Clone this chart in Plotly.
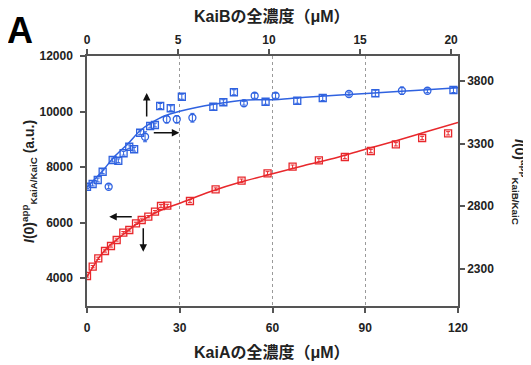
import plotly.graph_objects as go

# ---- data ----
# Red: KaiA total concentration (bottom axis, µM) vs I(0)app KaiA/KaiC (left axis)
kaiA_x = [0, 1.84, 3.65, 5.82, 7.76, 9.6, 11.74, 13.68, 15.85, 17.69, 19.83, 21.99, 23.93, 25.97,
          33.3, 41.6, 50.0, 58.4, 66.5, 75.0, 83.4, 91.8, 99.9, 108.4, 116.8]
kaiA_y = [4080, 4415, 4717, 4980, 5160, 5376, 5639, 5736, 5977, 6096, 6215, 6395, 6600, 6611,
          6780, 7201, 7511, 7777, 8015, 8245, 8364, 8580, 8821, 9048, 9217]
kaiA_err = [40, 40, 40, 40, 40, 40, 40, 40, 40, 40, 40, 40, 50, 50,
            50, 50, 60, 60, 60, 60, 60, 60, 60, 60, 60]
kaiA_fit_x = [0, 2, 4, 6, 8, 10, 12, 15, 20, 25, 30, 40, 50, 60, 70, 80, 90, 100, 110, 120]
kaiA_fit_y = [4050, 4420, 4760, 5030, 5250, 5420, 5600, 5870, 6230, 6500, 6700, 7120, 7470,
              7760, 8050, 8320, 8640, 8950, 9280, 9610]

# Blue: KaiB total concentration (top axis, µM) vs I(0)app KaiB/KaiC (right axis)
kaiB_sq_x = [0, 0.31, 0.59, 0.86, 1.41, 1.72, 2.01, 2.32, 2.59, 2.92, 3.47, 3.73, 4.02,
             4.60, 5.21, 6.94, 7.49, 8.07, 9.81, 11.55, 12.95, 15.84, 20.13]
kaiB_sq_y = [2954, 2976, 3008, 3074, 3168, 3162, 3222, 3274, 3254, 3386, 3440, 3448, 3600,
             3582, 3674, 3594, 3630, 3710, 3634, 3642, 3664, 3702, 3728]
kaiB_sq_err = [15, 15, 15, 15, 15, 15, 15, 15, 15, 15, 15, 15, 20,
               20, 20, 25, 20, 20, 20, 20, 20, 25, 20]
kaiB_ci_x = [1.19, 3.19, 4.38, 4.93, 5.79, 8.62, 9.21, 10.36, 14.39, 17.30, 18.70]
kaiB_ci_y = [2954, 3354, 3494, 3494, 3506, 3622, 3682, 3682, 3696, 3722, 3722]
kaiB_ci_err = [15, 40, 30, 30, 35, 15, 20, 20, 15, 30, 15]
kaiB_fit_x = [0, 0.4, 0.86, 1.5, 2.23, 2.96, 3.5, 4.24, 5.15, 6.98, 8.8, 10.08, 12.0, 15.56, 18.0, 20.38]
kaiB_fit_y = [2950, 3010, 3082, 3194, 3296, 3408, 3462, 3520, 3560, 3614, 3648, 3650, 3670, 3702, 3725, 3746]

kaiA_ticks = [0, 30, 60, 90, 120]
kaiB_ticks = [0, 5, 10, 15, 20]
left_ticks = [4000, 6000, 8000, 10000, 12000]
right_ticks = [2300, 2800, 3300, 3800]

BLUE = "#2f62e0"
RED = "#e8282c"
FONT = "Arial, 'Liberation Sans', 'Noto Sans CJK JP', sans-serif"
AX = "#555555"

fig = go.Figure()

# red fit + points
fig.add_trace(go.Scatter(x=kaiA_fit_x, y=kaiA_fit_y, mode="lines", line=dict(color=RED, width=1.5),
                         line_shape="spline", xaxis="x", yaxis="y", showlegend=False, hoverinfo="skip"))
fig.add_trace(go.Scatter(x=kaiA_x, y=kaiA_y, mode="markers", xaxis="x", yaxis="y", showlegend=False,
                         marker=dict(symbol="square-open", size=7, color=RED, line=dict(width=1.3)),
                         error_y=dict(type="data", array=kaiA_err, color=RED, thickness=1, width=2)))

# blue fit + points
fig.add_trace(go.Scatter(x=kaiB_fit_x, y=kaiB_fit_y, mode="lines", line=dict(color=BLUE, width=1.5),
                         line_shape="spline", xaxis="x2", yaxis="y2", showlegend=False, hoverinfo="skip"))
fig.add_trace(go.Scatter(x=kaiB_sq_x, y=kaiB_sq_y, mode="markers", xaxis="x2", yaxis="y2", showlegend=False,
                         marker=dict(symbol="square-open", size=7, color=BLUE, line=dict(width=1.3)),
                         error_y=dict(type="data", array=kaiB_sq_err, color=BLUE, thickness=1, width=2)))
fig.add_trace(go.Scatter(x=kaiB_ci_x, y=kaiB_ci_y, mode="markers", xaxis="x2", yaxis="y2", showlegend=False,
                         marker=dict(symbol="circle-open", size=7, color=BLUE, line=dict(width=1.3)),
                         error_y=dict(type="data", array=kaiB_ci_err, color=BLUE, thickness=1, width=2)))

tickfont = dict(family=FONT, size=12, color="#222222", weight="bold")
common = dict(showline=True, linecolor=AX, linewidth=1.5, ticks="outside", ticklen=5,
              tickwidth=1.5, tickcolor=AX, tickfont=tickfont, zeroline=False, tickformat="d")

# page body has an 8px margin: figure is 8px smaller and its content shifted up-left by 8px
fig.update_layout(
    width=523, height=357,
    margin=dict(l=79, r=73, t=48, b=59),
    paper_bgcolor="white", plot_bgcolor="white",
    font=dict(family=FONT),
    xaxis=dict(range=[0, 120], tickvals=kaiA_ticks, showgrid=True, gridcolor="#9a9a9a",
               griddash="dot", gridwidth=1, anchor="y", side="bottom", ticklabelstandoff=5, **common),
    xaxis2=dict(range=[0, 20.38], tickvals=kaiB_ticks, showgrid=False, overlaying="x",
                anchor="y", side="top", **common),
    yaxis=dict(range=[3000, 12000], tickvals=left_ticks, showgrid=False, anchor="x", side="left",
               ticklabelstandoff=5, **common),
    yaxis2=dict(range=[2000, 4000], tickvals=right_ticks, showgrid=False, overlaying="y",
                anchor="x", side="right", **common),
)

def px2paper(px, py):
    # screen pixel -> paper fraction (plot area on screen: x 87..458, y 56..306)
    return (px - 87) / 371.0, (306 - py) / 250.0

ann = []
x, y = px2paper(271.5, 16)
ann.append(dict(text="<b>KaiBの全濃度（μM）</b>", x=x, y=y, xref="paper", yref="paper",
                showarrow=False, xanchor="center", yanchor="middle",
                font=dict(family=FONT, size=16, color="#222")))
x, y = px2paper(271.5, 352)
ann.append(dict(text="<b>KaiAの全濃度（μM）</b>", x=x, y=y, xref="paper", yref="paper",
                showarrow=False, xanchor="center", yanchor="middle",
                font=dict(family=FONT, size=16, color="#222")))
x, y = px2paper(29, 182)
ann.append(dict(text="<b><i>I</i>(0)<sup>app</sup><sub>KaiA/KaiC</sub> (a.u.)</b>", x=x, y=y,
                xref="paper", yref="paper", showarrow=False, textangle=-90,
                xanchor="center", yanchor="middle", font=dict(family=FONT, size=14, color="#222")))
x, y = px2paper(520, 182)
ann.append(dict(text="<b><i>I</i>(0)<sup>app</sup><sub>KaiB/KaiC</sub></b>", x=x, y=y,
                xref="paper", yref="paper", showarrow=False, textangle=90,
                xanchor="center", yanchor="middle", font=dict(family=FONT, size=14, color="#222")))
x, y = px2paper(20, 8)
ann.append(dict(text="<b>A</b>", x=x, y=y, xref="paper", yref="paper", showarrow=False,
                xanchor="center", yanchor="top", font=dict(family=FONT, size=36, color="#000")))

# arrows (head positions in bottom/left axis coordinates)
arrow = dict(text="", showarrow=True, arrowhead=2, arrowsize=1, arrowwidth=1.5,
             arrowcolor="#111", xref="x", yref="y", axref="pixel", ayref="pixel")
ann.append(dict(arrow, x=19.3, y=10668, ax=0, ay=25))
ann.append(dict(arrow, x=29.85, y=9239, ax=-27, ay=0))
ann.append(dict(arrow, x=7.2, y=6215, ax=24, ay=0))
ann.append(dict(arrow, x=18.2, y=4955, ax=0, ay=-25))

fig.update_layout(annotations=ann)
fig.write_html("out.html")
